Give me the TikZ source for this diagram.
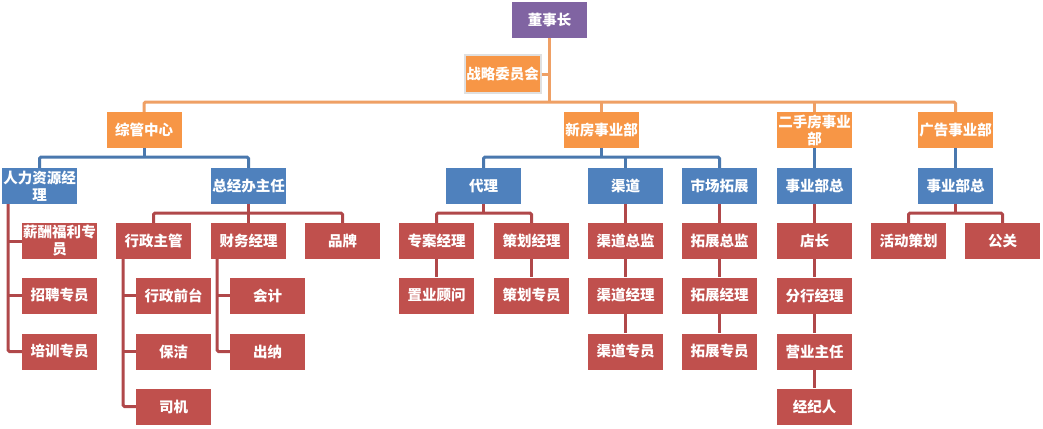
\documentclass[tikz,border=0pt]{standalone}
\usepackage{fontspec}
\newfontfamily\cjk{Noto Sans CJK SC}
\definecolor{cpurple}{HTML}{8064A2}
\definecolor{corange}{HTML}{F79646}
\definecolor{cblue}{HTML}{4F81BD}
\definecolor{cred}{HTML}{C0504D}
\definecolor{lred}{HTML}{B0484A}
\definecolor{lorange}{HTML}{EFA065}
\definecolor{lblue}{HTML}{4A78AE}
\tikzset{
  box/.style={minimum width=75pt, minimum height=36pt, inner sep=0.5pt, text=white,
    font=\cjk\bfseries\fontsize{14.5}{17}\selectfont, align=center},
  pbox/.style={box, fill=cpurple},
  obox/.style={box, fill=corange},
  bbox/.style={box, fill=cblue},
  rbox/.style={box, fill=cred},
  oline/.style={draw=lorange, line width=3pt, rounded corners=1.5pt},
  bline/.style={draw=lblue, line width=3pt, rounded corners=1.5pt},
  rline/.style={draw=lred, line width=3pt, rounded corners=1.5pt},
}
\begin{document}
\begin{tikzpicture}[x=1pt,y=-1pt]
\useasboundingbox[fill=white] (0,0) rectangle (1043,428);
% level 1
\node[pbox] (chair) at (549.5,20) {董事长};
\node[obox, draw=black!12, line width=2pt, minimum width=76pt, minimum height=37pt] (strat) at (502.5,74) {战略委员会};
% level 2
\node[obox] (zg) at (144,130) {综管中心};
\node[obox] (xf) at (601.5,130) {新房事业部};
\node[obox] (es) at (814.5,130) {二手房事业\\部};
\node[obox] (gg) at (955.5,130) {广告事业部};
% level 3
\node[bbox] (hr) at (39.5,186) {人力资源经\\理};
\node[bbox] (zjb) at (248.5,186) {总经办主任};
\node[bbox] (dl) at (483.5,186) {代理};
\node[bbox] (qd) at (625.5,186) {渠道};
\node[bbox] (sc) at (719.5,186) {市场拓展};
\node[bbox] (esz) at (814.5,186) {事业部总};
\node[bbox] (ggz) at (955.5,186) {事业部总};
% level 4
\node[rbox] (xc) at (59.5,241) {薪酬福利专\\员};
\node[rbox] (xz) at (153.5,241) {行政主管};
\node[rbox] (cw) at (248.5,241) {财务经理};
\node[rbox] (pp) at (342.5,241) {品牌};
\node[rbox] (za) at (436.5,241) {专案经理};
\node[rbox] (ch) at (531.5,241) {策划经理};
\node[rbox] (qz) at (625.5,241) {渠道总监};
\node[rbox] (tz) at (719.5,241) {拓展总监};
\node[rbox] (dz) at (814.5,241) {店长};
\node[rbox] (hd) at (908.5,241) {活动策划};
\node[rbox] (gy) at (1002.5,241) {公关};
% level 5
\node[rbox] (zp) at (59.5,295.5) {招聘专员};
\node[rbox] (xq) at (173.5,295.5) {行政前台};
\node[rbox] (kj) at (267.5,295.5) {会计};
\node[rbox] (zy) at (436.5,295.5) {置业顾问};
\node[rbox] (chz) at (531.5,295.5) {策划专员};
\node[rbox] (qj) at (625.5,295.5) {渠道经理};
\node[rbox] (tj) at (719.5,295.5) {拓展经理};
\node[rbox] (fh) at (814.5,295.5) {分行经理};
% level 6
\node[rbox] (px) at (59.5,351.5) {培训专员};
\node[rbox] (bj) at (173.5,351.5) {保洁};
\node[rbox] (cn) at (267.5,351.5) {出纳};
\node[rbox] (qzy) at (625.5,351.5) {渠道专员};
\node[rbox] (tzy) at (719.5,351.5) {拓展专员};
\node[rbox] (yz) at (814.5,351.5) {营业主任};
% level 7
\node[rbox] (sj) at (173.5,406.5) {司机};
\node[rbox] (jjr) at (814.5,406.5) {经纪人};
% coordinates for buses
\coordinate (obus) at (0,102);
\coordinate (bbus) at (0,157);
\coordinate (rbus) at (0,213);
\coordinate (hrv) at (8,0);
\coordinate (xzv) at (123,0);
\coordinate (cwv) at (217,0);
% orange connectors
\draw[oline] (chair.south) -- (chair.south |- obus);
\draw[oline] (strat.east) -- (strat.east -| chair.south);
\draw[oline] (zg.north) -- (zg.north |- obus) -- (gg.north |- obus) -- (gg.north);
\draw[oline] (xf.north) -- (xf.north |- obus);
\draw[oline] (es.north) -- (es.north |- obus);
% blue connectors
\draw[bline] (hr.north) -- (hr.north |- bbus) -- (zjb.north |- bbus) -- (zjb.north);
\draw[bline] (zg.south) -- (zg.south |- bbus);
\draw[bline] (dl.north) -- (dl.north |- bbus) -- (sc.north |- bbus) -- (sc.north);
\draw[bline] (xf.south) -- (xf.south |- bbus);
\draw[bline] (qd.north) -- (qd.north |- bbus);
\draw[bline] (es.south) -- (esz.north);
\draw[bline] (gg.south) -- (ggz.north);
% red connectors
\draw[rline] (hrv |- hr.south) -- (hrv |- px.west) -- (px.west);
\draw[rline] (hrv |- xc.west) -- (xc.west);
\draw[rline] (hrv |- zp.west) -- (zp.west);
\draw[rline] (xz.north) -- (xz.north |- rbus) -- (pp.north |- rbus) -- (pp.north);
\draw[rline] (zjb.south) -- (cw.north);
\draw[rline] (xzv |- xz.south) -- (xzv |- sj.west) -- (sj.west);
\draw[rline] (xzv |- xq.west) -- (xq.west);
\draw[rline] (xzv |- bj.west) -- (bj.west);
\draw[rline] (cwv |- cw.south) -- (cwv |- cn.west) -- (cn.west);
\draw[rline] (cwv |- kj.west) -- (kj.west);
\draw[rline] (za.north) -- (za.north |- rbus) -- (ch.north |- rbus) -- (ch.north);
\draw[rline] (dl.south) -- (dl.south |- rbus);
\draw[rline] (za.south) -- (zy.north);
\draw[rline] (ch.south) -- (chz.north);
\draw[rline] (qd.south) -- (qz.north);
\draw[rline] (qz.south) -- (qj.north);
\draw[rline] (qj.south) -- (qzy.north);
\draw[rline] (sc.south) -- (tz.north);
\draw[rline] (tz.south) -- (tj.north);
\draw[rline] (tj.south) -- (tzy.north);
\draw[rline] (esz.south) -- (dz.north);
\draw[rline] (dz.south) -- (fh.north);
\draw[rline] (fh.south) -- (yz.north);
\draw[rline] (yz.south) -- (jjr.north);
\draw[rline] (hd.north) -- (hd.north |- rbus) -- (gy.north |- rbus) -- (gy.north);
\draw[rline] (ggz.south) -- (ggz.south |- rbus);
\end{tikzpicture}
\end{document}
